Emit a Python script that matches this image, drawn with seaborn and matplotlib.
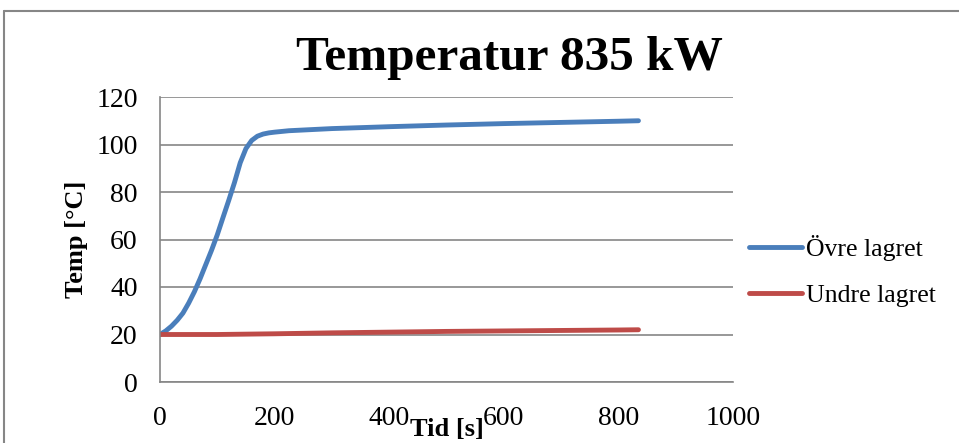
import matplotlib
matplotlib.use("Agg")
import matplotlib.pyplot as plt
from matplotlib.lines import Line2D
import seaborn as sns
import pandas as pd

# Data
t_upper = [0, 10, 20, 30, 40, 50, 60, 70, 80, 90, 100, 110, 120, 130, 140, 150, 160, 170, 180, 190, 200,
           225, 250, 275, 300, 400, 500, 600, 700, 800, 835]
T_upper = [20, 21.5, 23.5, 26, 29, 33.2, 38, 43.5, 49.5, 55.5, 62, 69.3, 76.5, 84, 92.3, 98.3, 101.7, 103.5, 104.4,
           104.9, 105.2, 105.8, 106.1, 106.4, 106.7, 107.5, 108.2, 108.8, 109.3, 109.8, 110]
t_lower = [0, 100, 200, 300, 400, 500, 600, 700, 800, 835]
T_lower = [20, 20, 20.3, 20.7, 21, 21.3, 21.5, 21.7, 21.9, 22]

series_names = ["Övre lagret", "Undre lagret"]
x_ticks = [0, 200, 400, 600, 800, 1000]
y_ticks = [0, 20, 40, 60, 80, 100, 120]
title = "Temperatur 835 kW"
xlabel = "Tid [s]"
ylabel = "Temp [°C]"

df = pd.concat([
    pd.DataFrame({"t": t_upper, "T": T_upper, "serie": series_names[0]}),
    pd.DataFrame({"t": t_lower, "T": T_lower, "serie": series_names[1]}),
])

sns.set_style("white")
plt.rcParams["font.family"] = ["Liberation Serif", "DejaVu Serif"]
plt.rcParams["text.color"] = "black"
plt.rcParams["axes.labelcolor"] = "black"

fig = plt.figure(figsize=(9.59, 4.43), dpi=100)
ax = fig.add_axes([160 / 959, 61 / 443, 573 / 959, 285 / 443])

palette = {series_names[0]: "#4A7EBB", series_names[1]: "#BE4B48"}
sns.lineplot(data=df, x="t", y="T", hue="serie", palette=palette, ax=ax,
             linewidth=3.5, legend=False, sort=False,
             solid_joinstyle="round", solid_capstyle="round")

ax.set_xlim(0, 1000)
ax.set_ylim(0, 120)
ax.set_xticks(x_ticks)
ax.set_yticks(y_ticks)
ax.tick_params(axis="both", length=0, labelsize=20, colors="black")
ax.tick_params(axis="y", pad=16)
ax.tick_params(axis="x", pad=17)
ax.grid(axis="y", color="#868686", linewidth=1.2)
ax.set_axisbelow(True)
for s in ["top", "right"]:
    ax.spines[s].set_visible(False)
for s in ["left", "bottom"]:
    ax.spines[s].set_color("#868686")
    ax.spines[s].set_linewidth(1.2)

ax.set_xlabel(xlabel, fontsize=19, fontweight="bold", labelpad=-9)
ax.set_ylabel(ylabel, fontsize=19, fontweight="bold", labelpad=6)

fig.text(509 / 959, 1 - 58 / 443, title, ha="center", va="center",
         fontsize=35.5, fontweight="bold")

handles = [Line2D([0], [0], color=palette[n], linewidth=3.5, solid_capstyle="round") for n in series_names]
fig.legend(handles, series_names, loc="center left", bbox_to_anchor=(749 / 959, 1 - 271 / 443),
           frameon=False, fontsize=18.5, handlelength=2.05, handletextpad=0.15, labelspacing=0.88,
           borderpad=0, borderaxespad=0)

# outer chart frame
fig.add_artist(Line2D([4 / 959, 4 / 959], [0, 1 - 11 / 443], color="#868686", linewidth=1.5,
                      transform=fig.transFigure))
fig.add_artist(Line2D([4 / 959, 1], [1 - 11 / 443, 1 - 11 / 443], color="#868686", linewidth=1.5,
                      transform=fig.transFigure))

fig.savefig("out.png", dpi=100)
